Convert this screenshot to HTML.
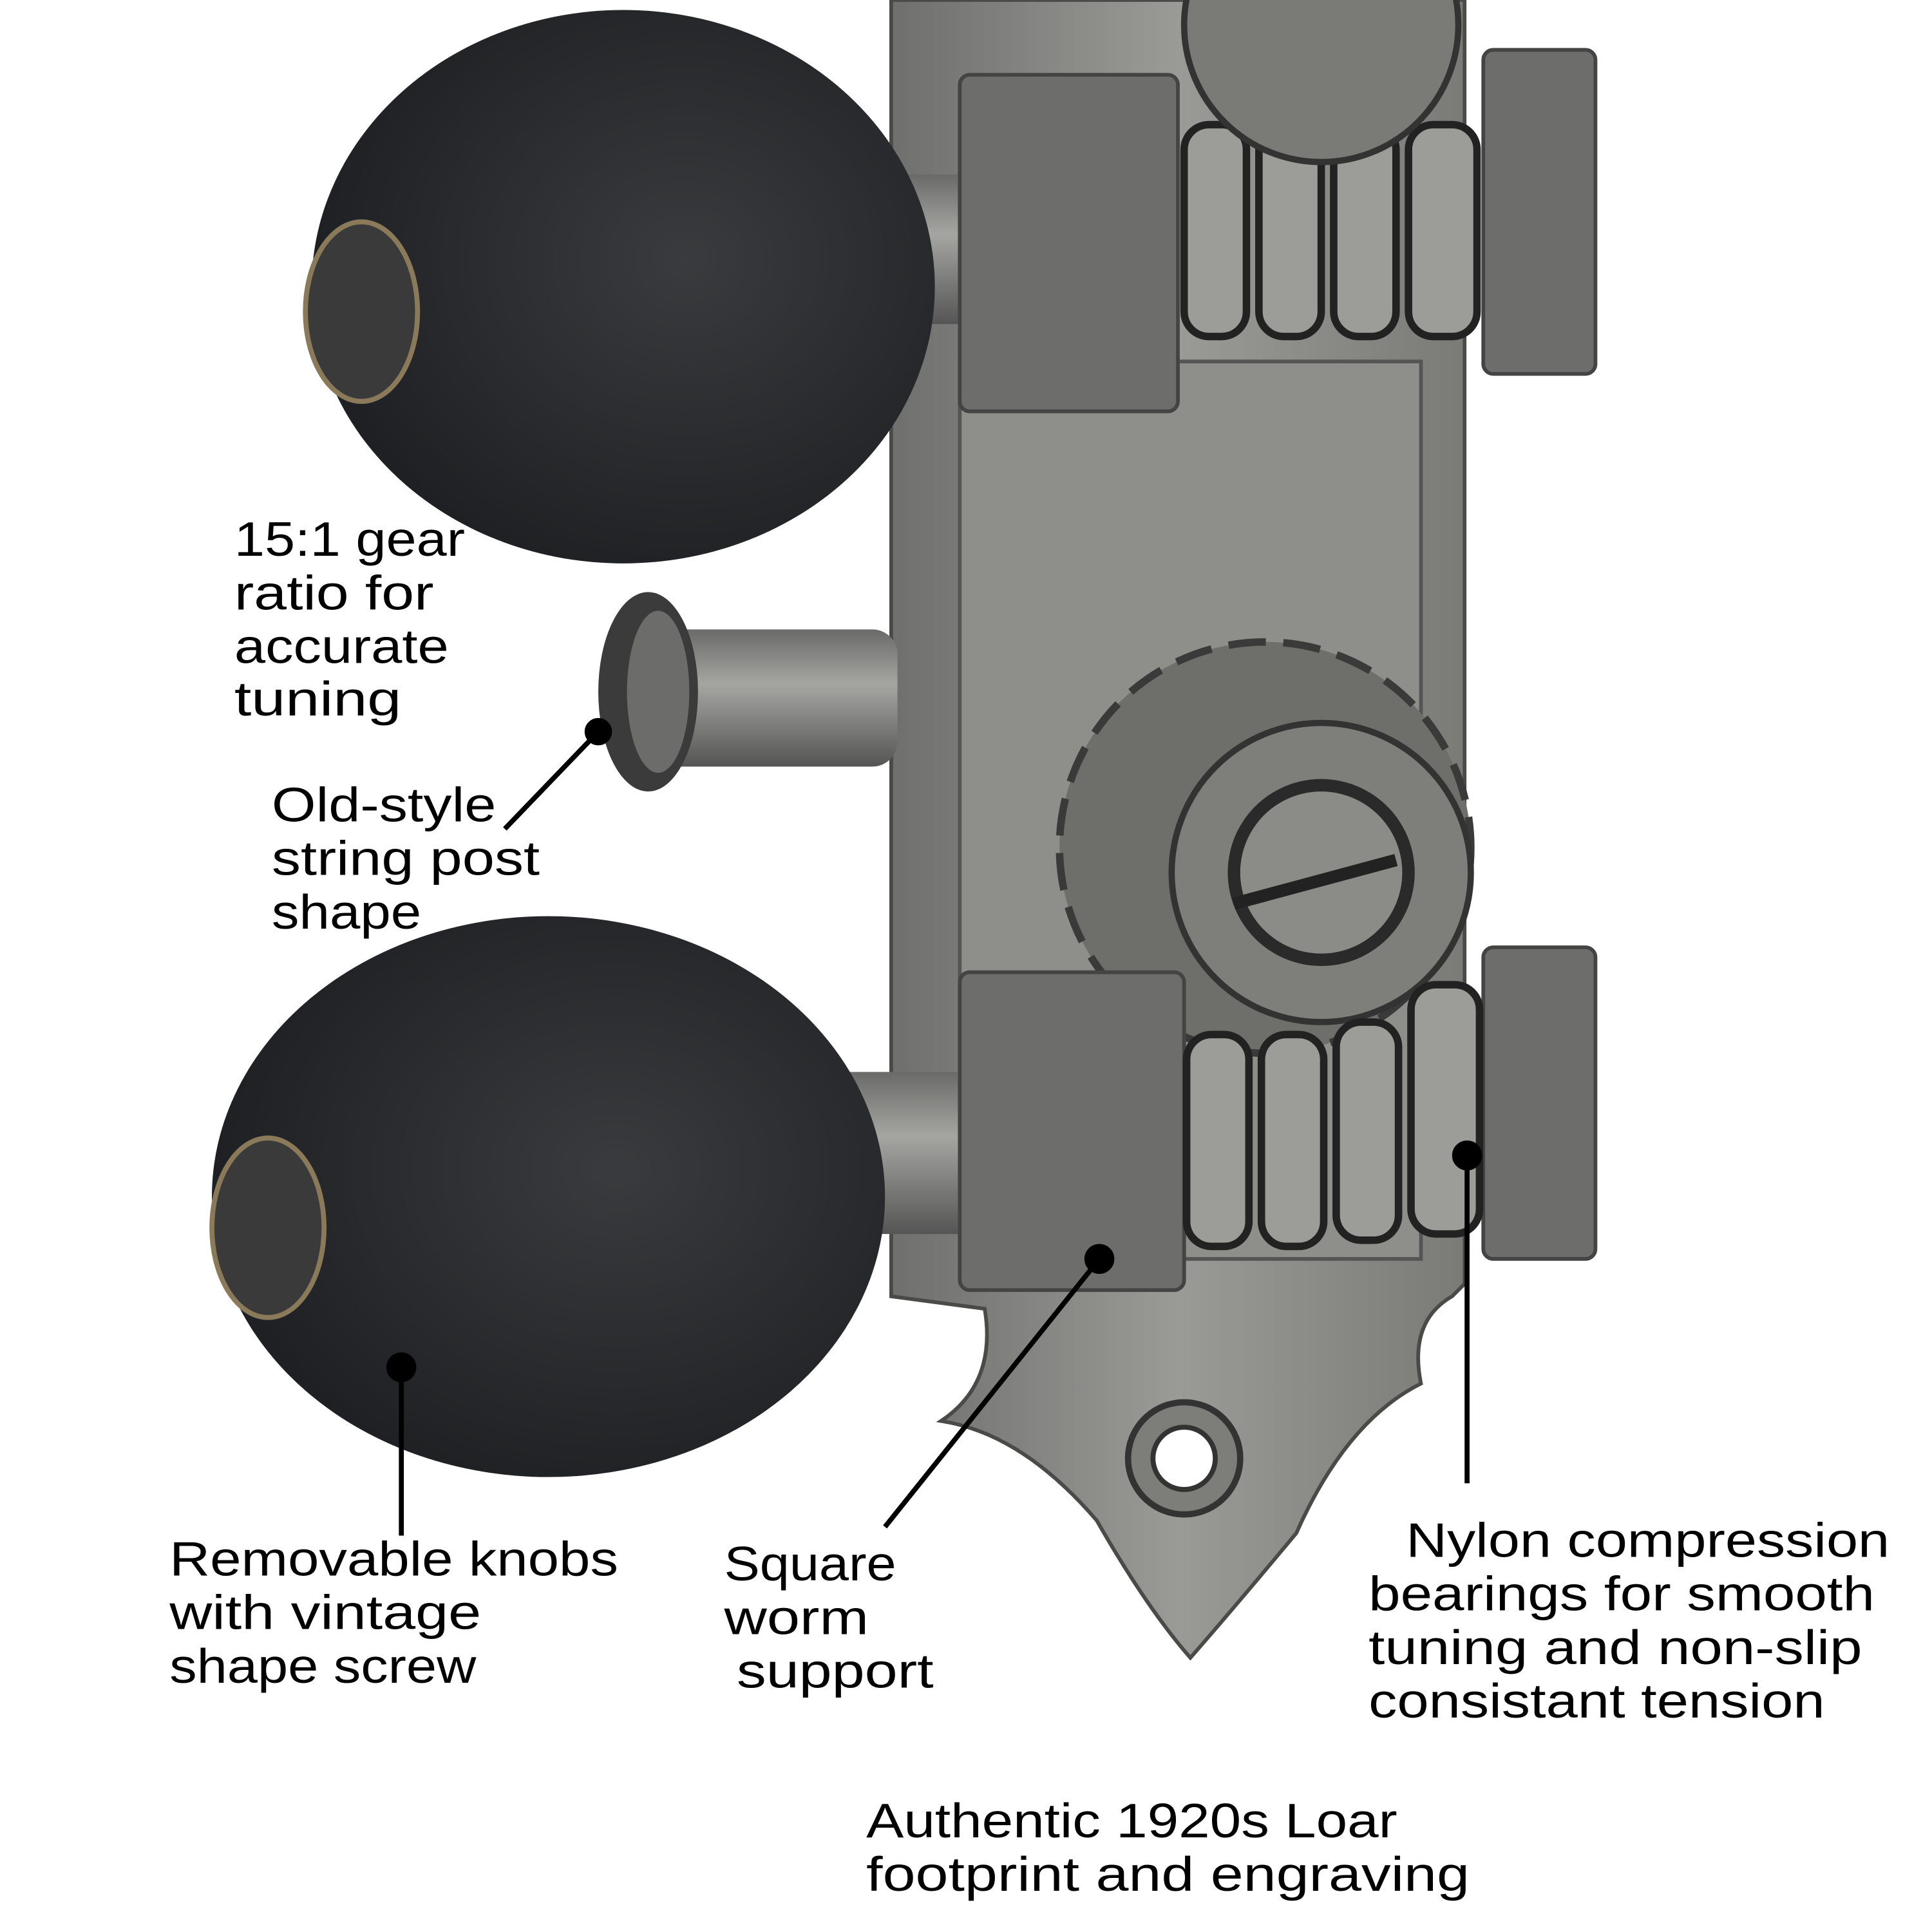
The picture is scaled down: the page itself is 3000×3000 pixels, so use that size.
<!DOCTYPE html>
<html><head><meta charset="utf-8"><style>html,body{margin:0;padding:0;background:#fff}svg{display:block}</style></head>
<body>
<svg width="3000" height="3000" viewBox="0 0 1550 1550" xmlns="http://www.w3.org/2000/svg">
<defs>
<linearGradient id="pl" x1="0" x2="1"><stop offset="0" stop-color="#6f6f6d"/><stop offset="0.5" stop-color="#9a9a97"/><stop offset="1" stop-color="#7a7a77"/></linearGradient>
<linearGradient id="sh" x1="0" y1="0" x2="0" y2="1"><stop offset="0" stop-color="#6a6a68"/><stop offset="0.4" stop-color="#a5a5a2"/><stop offset="1" stop-color="#555"/></linearGradient>
<radialGradient id="kn" cx="0.6" cy="0.45" r="0.6"><stop offset="0" stop-color="#3a3b3e"/><stop offset="1" stop-color="#1f2023"/></radialGradient>
</defs>
<path d="M715 0 H1175 V1030 L1165 1040 Q1130 1060 1140 1110 Q1080 1140 1040 1230 Q990 1290 955 1330 Q920 1290 880 1220 Q820 1150 755 1140 Q800 1110 790 1050 L715 1040 Z" fill="url(#pl)" stroke="#4a4a48" stroke-width="3"/>
<rect x="770" y="290" width="370" height="720" fill="#8e8e8b" stroke="#555" stroke-width="3"/>
<circle cx="950" cy="1170" r="45" fill="#7d7d7a" stroke="#333" stroke-width="5"/>
<circle cx="950" cy="1170" r="25" fill="#fff" stroke="#333" stroke-width="4"/>
<rect x="520" y="505" width="200" height="110" rx="20" fill="url(#sh)"/>
<ellipse cx="520" cy="555" rx="40" ry="80" fill="#3b3b3b"/>
<ellipse cx="528" cy="555" rx="25" ry="65" fill="#6c6c6a"/>
<rect x="720" y="140" width="140" height="120" fill="url(#sh)"/>
<rect x="770" y="60" width="175" height="270" rx="8" fill="#6d6d6b" stroke="#444" stroke-width="3"/>
<rect x="1190" y="40" width="90" height="260" rx="8" fill="#6d6d6b" stroke="#444" stroke-width="3"/>
<g fill="#9c9c99" stroke="#222" stroke-width="6">
<rect x="950" y="100" width="50" height="170" rx="20"/><rect x="1010" y="100" width="50" height="170" rx="20"/><rect x="1070" y="100" width="50" height="170" rx="20"/><rect x="1130" y="100" width="55" height="170" rx="20"/></g>
<circle cx="1060" cy="20" r="110" fill="#7a7a77" stroke="#333" stroke-width="5"/>
<ellipse cx="500" cy="230" rx="250" ry="222" fill="url(#kn)"/>
<ellipse cx="290" cy="250" rx="45" ry="72" fill="#3a3a3a" stroke="#8a7a5a" stroke-width="4"/>
<circle cx="1015" cy="680" r="165" fill="#6e6e6b" stroke="#3a3a3a" stroke-width="6" stroke-dasharray="30 14"/>
<circle cx="1060" cy="700" r="120" fill="#7e7e7b" stroke="#333" stroke-width="5"/>
<circle cx="1060" cy="700" r="75" fill="#2a2a2a"/>
<circle cx="1060" cy="700" r="65" fill="#8b8b88"/>
<line x1="990" y1="725" x2="1120" y2="690" stroke="#222" stroke-width="10"/>
<rect x="660" y="860" width="200" height="130" fill="url(#sh)"/>
<rect x="770" y="780" width="180" height="255" rx="8" fill="#6d6d6b" stroke="#444" stroke-width="3"/>
<rect x="1190" y="760" width="90" height="250" rx="8" fill="#6d6d6b" stroke="#444" stroke-width="3"/>
<g fill="#9c9c99" stroke="#222" stroke-width="6">
<rect x="952" y="830" width="50" height="170" rx="20"/><rect x="1012" y="830" width="50" height="170" rx="20"/><rect x="1072" y="820" width="50" height="175" rx="20"/><rect x="1132" y="790" width="55" height="200" rx="20"/></g>
<ellipse cx="440" cy="960" rx="270" ry="225" fill="url(#kn)"/>
<ellipse cx="215" cy="985" rx="45" ry="72" fill="#3a3a3a" stroke="#8a7a5a" stroke-width="4"/>
<g stroke="#000" stroke-width="4" fill="#000">
<line x1="480" y1="587" x2="405" y2="665"/><circle cx="480" cy="587" r="9"/>
<line x1="322" y1="1097" x2="322" y2="1232"/><circle cx="322" cy="1097" r="10"/>
<line x1="882" y1="1010" x2="710" y2="1225"/><circle cx="882" cy="1010" r="10"/>
<line x1="1177" y1="927" x2="1177" y2="1190"/><circle cx="1177" cy="927" r="10"/>
</g>
<g font-family="Liberation Sans, sans-serif" font-size="39" fill="#000">
<text x="188" y="446" textLength="185" lengthAdjust="spacingAndGlyphs">15:1 gear</text>
<text x="188" y="489" textLength="160" lengthAdjust="spacingAndGlyphs">ratio for</text>
<text x="188" y="532" textLength="172" lengthAdjust="spacingAndGlyphs">accurate</text>
<text x="188" y="574" textLength="134" lengthAdjust="spacingAndGlyphs">tuning</text>
<text x="218" y="659" textLength="180" lengthAdjust="spacingAndGlyphs">Old-style</text>
<text x="218" y="702" textLength="215" lengthAdjust="spacingAndGlyphs">string post</text>
<text x="218" y="745" textLength="120" lengthAdjust="spacingAndGlyphs">shape</text>
<text x="136" y="1264" textLength="360" lengthAdjust="spacingAndGlyphs">Removable knobs</text>
<text x="136" y="1307" textLength="250" lengthAdjust="spacingAndGlyphs">with vintage</text>
<text x="136" y="1350" textLength="246" lengthAdjust="spacingAndGlyphs">shape screw</text>
<text x="581" y="1268" textLength="138" lengthAdjust="spacingAndGlyphs">Square</text>
<text x="581" y="1311" textLength="116" lengthAdjust="spacingAndGlyphs">worm</text>
<text x="591" y="1354" textLength="158" lengthAdjust="spacingAndGlyphs">support</text>
<text x="1128" y="1249" textLength="388" lengthAdjust="spacingAndGlyphs">Nylon compression</text>
<text x="1098" y="1292" textLength="406" lengthAdjust="spacingAndGlyphs">bearings for smooth</text>
<text x="1098" y="1335" textLength="396" lengthAdjust="spacingAndGlyphs">tuning and non-slip</text>
<text x="1098" y="1378" textLength="366" lengthAdjust="spacingAndGlyphs">consistant tension</text>
<text x="695" y="1474" textLength="426" lengthAdjust="spacingAndGlyphs">Authentic 1920s Loar</text>
<text x="695" y="1517" textLength="484" lengthAdjust="spacingAndGlyphs">footprint and engraving</text>
</g>
</svg>
</body></html>
